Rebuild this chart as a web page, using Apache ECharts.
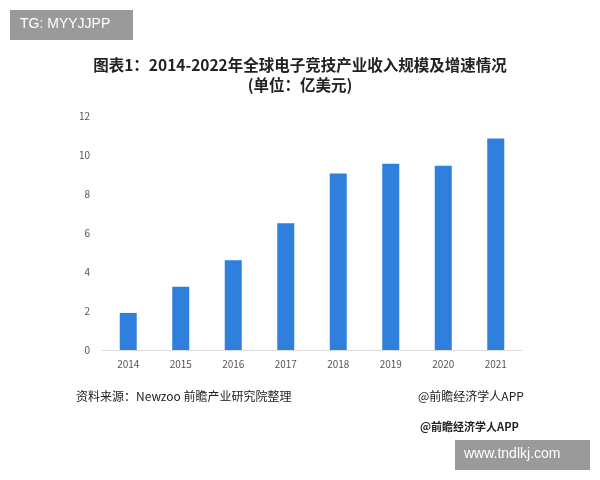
<!DOCTYPE html>
<html>
<head>
<meta charset="utf-8">
<script src="https://cdn.jsdelivr.net/npm/echarts@6/dist/echarts.min.js"></script>
<style>html,body{margin:0;padding:0;background:#fff}#c{width:600px;height:480px}</style>
</head>
<body>
<div id="c"></div>
<script>
var years = ['2014', '2015', '2016', '2017', '2018', '2019', '2020', '2021'];
var revenue = [1.9, 3.25, 4.6, 6.5, 9.05, 9.55, 9.45, 10.85];
var yTicks = [0, 2, 4, 6, 8, 10, 12];

var chart = echarts.init(document.getElementById('c'));
var font = '"Noto Sans CJK SC", sans-serif';
chart.setOption({
    animation: false,
    textStyle: { fontFamily: font },
    title: {
        text: '图表1：2014-2022年全球电子竞技产业收入规模及增速情况\n(单位：亿美元)',
        left: 'center', top: 50,
        textStyle: { fontSize: 15.5, fontWeight: 'bold', color: '#222', lineHeight: 20, fontFamily: font, align: 'center' }
    },
    grid: { left: 102, right: 78, top: 116, bottom: 130 },
    xAxis: {
        type: 'category', data: years,
        axisLine: { lineStyle: { color: '#ddd' } },
        axisTick: { show: false },
        axisLabel: { color: '#555', fontSize: 10, margin: 9 }
    },
    yAxis: {
        type: 'value', min: yTicks[0], max: yTicks[yTicks.length - 1], interval: 2,
        axisLine: { show: false }, axisTick: { show: false },
        splitLine: { show: false },
        axisLabel: { color: '#555', fontSize: 10, margin: 12 }
    },
    series: [{
        type: 'bar', data: revenue, barWidth: 17,
        itemStyle: { color: '#2f7fdc' }
    }],
    graphic: [
        { type: 'rect', shape: { x: 10, y: 10, width: 123, height: 30 }, style: { fill: '#9a9a9a' } },
        { type: 'text', left: 20, top: 17, style: { text: 'TG: MYYJJPP', fill: '#fff', font: '14px Liberation Sans, sans-serif' } },
        { type: 'rect', shape: { x: 455, y: 440, width: 135, height: 30 }, style: { fill: '#9a9a9a' } },
        { type: 'text', left: 464, top: 447, style: { text: 'www.tndlkj.com', fill: '#fff', font: '14px Liberation Sans, sans-serif' } },
        { type: 'text', left: 76, top: 390, style: { text: '资料来源：Newzoo 前瞻产业研究院整理', fill: '#222', font: '12px "Noto Sans CJK SC"' } },
        { type: 'text', left: 418, top: 390, style: { text: '@前瞻经济学人APP', fill: '#222', font: '12px "Noto Sans CJK SC"' } },
        { type: 'text', left: 420, top: 421, style: { text: '@前瞻经济学人APP', fill: '#222', font: 'bold 11px "Noto Sans CJK SC"' } }
    ]
});
</script>
</body>
</html>
